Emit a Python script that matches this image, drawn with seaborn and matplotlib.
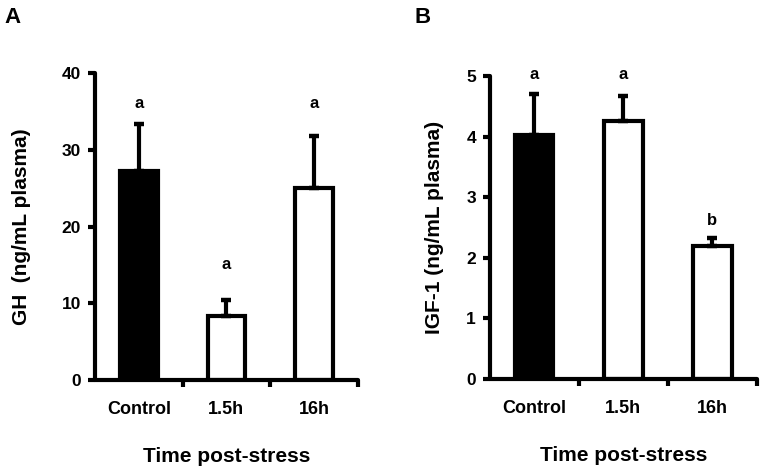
import matplotlib
matplotlib.use("Agg")
import matplotlib.pyplot as plt
import seaborn as sns
import pandas as pd
import numpy as np

sns.set_style("white")
plt.rcParams['font.family'] = ['Liberation Sans', 'DejaVu Sans']
plt.rcParams['font.weight'] = 'bold'
plt.rcParams['text.color'] = 'black'
plt.rcParams['axes.labelcolor'] = 'black'
plt.rcParams['xtick.color'] = 'black'
plt.rcParams['ytick.color'] = 'black'

categories = ["Control", "1.5h", "16h"]
gh_mean = [27.3, 8.3, 25.0]
gh_err = [6.1, 2.1, 6.8]
gh_letters = ["a", "a", "a"]
igf_mean = [4.02, 4.26, 2.20]
igf_err = [0.68, 0.41, 0.12]
igf_letters = ["a", "a", "b"]
colors = ["black", "white", "white"]

fig = plt.figure(figsize=(7.63, 4.69), dpi=100)
axA = fig.add_axes([0.1245, 0.190, 0.3445, 0.654])
axB = fig.add_axes([0.642, 0.192, 0.350, 0.646])

def panel(ax, means, errs, letters, ylim, yticks, ylabel, letter_y, ypad):
    df = pd.DataFrame({"cat": categories, "val": means})
    sns.barplot(data=df, x="cat", y="val", hue="cat", palette=colors,
                edgecolor="black", linewidth=3.0, width=0.43, ax=ax,
                legend=False, saturation=1)
    x = np.arange(len(categories))
    ax.errorbar(x, means, yerr=[np.zeros(len(means)), errs], fmt="none",
                ecolor="black", elinewidth=3.0, capsize=3.5, capthick=3.2)
    for xi, l, ly in zip(x, letters, letter_y):
        ax.text(xi, ly, l, ha="center", va="center", fontsize=12, fontweight="bold")
    ax.set_xlim(-0.5, 2.5)
    ax.set_ylim(*ylim)
    ax.set_yticks(yticks)
    ax.set_yticklabels([str(t) for t in yticks], fontsize=12.5, fontweight="bold")
    ax.set_xticks(x)
    ax.set_xticklabels(categories, fontsize=13, fontweight="bold")
    ax.set_xticks([0.5, 1.5, 2.5], minor=True)
    ax.tick_params(axis="x", which="major", length=0, pad=15, bottom=True)
    ax.tick_params(axis="x", which="minor", length=5, width=3, direction="out",
                   color="black", bottom=True)
    ax.tick_params(axis="y", which="major", length=5, width=3, direction="out",
                   color="black", pad=5, left=True)
    ax.set_xlabel("Time post-stress", fontsize=15, fontweight="bold", labelpad=21)
    ax.set_ylabel(ylabel, fontsize=15, fontweight="bold", labelpad=ypad)
    for s in ["top", "right"]:
        ax.spines[s].set_visible(False)
    for s in ["left", "bottom"]:
        ax.spines[s].set_linewidth(3)
        ax.spines[s].set_color("black")
        ax.spines[s].set_capstyle("round")

panel(axA, gh_mean, gh_err, gh_letters, (0, 40), [0, 10, 20, 30, 40],
      "GH  (ng/mL plasma)", [36.1, 15.0, 36.1], 22)
panel(axB, igf_mean, igf_err, igf_letters, (0, 5), [0, 1, 2, 3, 4, 5],
      "IGF-1 (ng/mL plasma)", [5.03, 5.03, 2.62], 16)

fig.text(0.006, 0.962, "A", fontsize=16, fontweight="bold", ha="left", va="center")
fig.text(0.543, 0.962, "B", fontsize=16, fontweight="bold", ha="left", va="center")

fig.savefig("out.png", dpi=100)
